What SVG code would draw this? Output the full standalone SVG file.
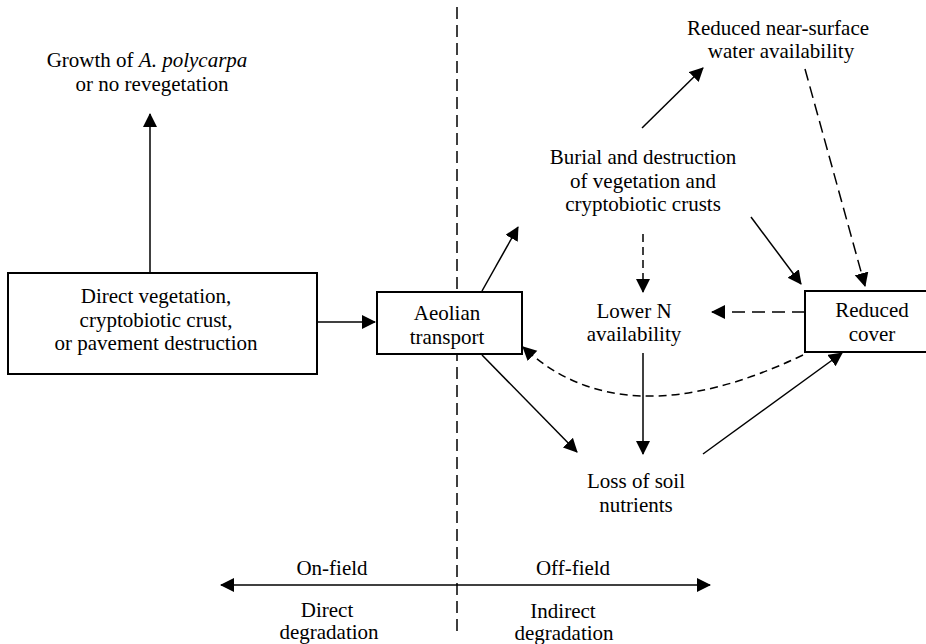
<svg xmlns="http://www.w3.org/2000/svg" width="926" height="644" viewBox="0 0 926 644">
<style>
text{font-family:"Liberation Serif","Times New Roman",serif;font-size:21px;fill:#000;text-anchor:middle}
.box{fill:#fff;stroke:#000;stroke-width:2}
.ln{fill:none;stroke:#000;stroke-width:1.5}
.d1{stroke-dasharray:12 6}
.d2{stroke-dasharray:8 5}
.d3{stroke-dasharray:13 7}
</style>
<defs>
<marker id="ah" markerUnits="userSpaceOnUse" markerWidth="15" markerHeight="15" refX="13" refY="7" orient="auto">
<path d="M0,0 L14,7 L0,14 z" fill="#000"/>
</marker>
<marker id="ahs" markerUnits="userSpaceOnUse" markerWidth="15" markerHeight="15" refX="1" refY="7" orient="auto">
<path d="M14,0 L0,7 L14,14 z" fill="#000"/>
</marker>
</defs>
<rect width="926" height="644" fill="#fff"/>

<g id="divider">
<line class="ln d1" x1="457" y1="7" x2="457" y2="632"/>
</g>

<g id="connectors">
<line class="ln" x1="150" y1="273" x2="150" y2="114" marker-end="url(#ah)"/>
<line class="ln" x1="318" y1="322" x2="375" y2="322" marker-end="url(#ah)"/>
<line class="ln" x1="482" y1="291" x2="518" y2="227" marker-end="url(#ah)"/>
<line class="ln" x1="482" y1="355" x2="577" y2="452" marker-end="url(#ah)"/>
<line class="ln" x1="642" y1="128" x2="703" y2="68" marker-end="url(#ah)"/>
<line class="ln" x1="751" y1="217" x2="801" y2="284" marker-end="url(#ah)"/>
<line class="ln" x1="643" y1="353" x2="643" y2="454" marker-end="url(#ah)"/>
<line class="ln" x1="703" y1="454" x2="842" y2="353" marker-end="url(#ah)"/>
<line class="ln d1" x1="805" y1="69" x2="865" y2="286" marker-end="url(#ah)"/>
<line class="ln d2" x1="643" y1="234" x2="643" y2="292" marker-end="url(#ah)"/>
<line class="ln d3" x1="805" y1="312" x2="712" y2="312" marker-end="url(#ah)"/>
<path class="ln d2" d="M803,355 Q623,441 523,347" marker-end="url(#ah)"/>
<line class="ln" x1="221" y1="585" x2="710" y2="585" marker-start="url(#ahs)" marker-end="url(#ah)"/>
</g>

<g id="growth">
<text x="147" y="67">Growth of <tspan font-style="italic">A. polycarpa</tspan></text>
<text x="152" y="91">or no revegetation</text>
</g>

<g id="direct-destruction">
<rect class="box" x="8" y="273" width="309" height="101"/>
<text x="156" y="303">Direct vegetation,</text>
<text x="156" y="327">cryptobiotic crust,</text>
<text x="156" y="350">or pavement destruction</text>
</g>

<g id="aeolian">
<rect class="box" x="377" y="292" width="145" height="62"/>
<text x="447" y="320">Aeolian</text>
<text x="447" y="344">transport</text>
</g>

<g id="water">
<text x="778" y="35">Reduced near-surface</text>
<text x="781" y="58">water availability</text>
</g>

<g id="burial">
<text x="643" y="164">Burial and destruction</text>
<text x="643" y="188">of vegetation and</text>
<text x="643" y="211">cryptobiotic crusts</text>
</g>

<g id="lower-n">
<text x="634" y="318">Lower N</text>
<text x="634" y="341">availability</text>
</g>

<g id="reduced-cover">
<rect class="box" x="805" y="291" width="130" height="61"/>
<text x="872" y="317">Reduced</text>
<text x="872" y="341">cover</text>
</g>

<g id="loss">
<text x="636" y="488">Loss of soil</text>
<text x="636" y="512">nutrients</text>
</g>

<g id="axis-labels">
<text x="332" y="575">On-field</text>
<text x="573" y="575">Off-field</text>
<text x="327" y="617">Direct</text>
<text x="329" y="639">degradation</text>
<text x="563" y="618">Indirect</text>
<text x="564" y="640">degradation</text>
</g>
</svg>
